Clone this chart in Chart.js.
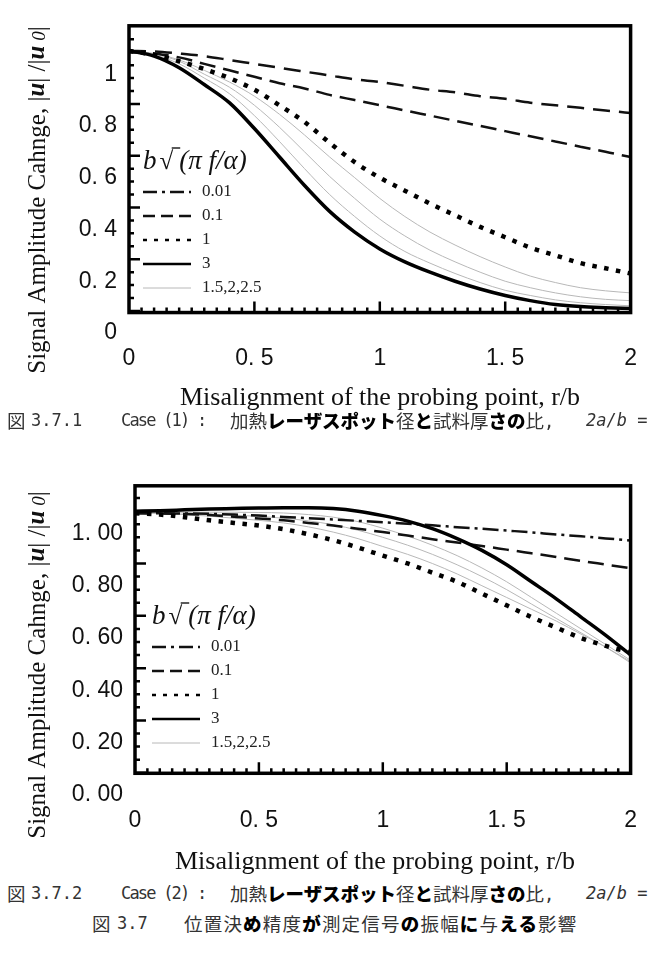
<!DOCTYPE html>
<html>
<head>
<meta charset="utf-8">
<script src="https://cdn.jsdelivr.net/npm/chart.js@4.4.1/dist/chart.umd.min.js"></script>
<style>
body { margin: 0; background: #fff; width: 649px; height: 954px; position: relative; overflow: hidden; }
.wrap { position: absolute; left: 0; width: 649px; }
#wrap1 { top: 0; height: 412px; }
#wrap2 { top: 460px; height: 415px; }
.cap { position: absolute; white-space: pre; color: #333; font-family: 'DejaVu Sans Mono', monospace; font-size: 17px; line-height: 20px; }
.cap span { position: absolute; top: 0; white-space: pre; }
.cs { letter-spacing: -1.8px; }
.j { font-family: 'Noto Sans CJK JP', sans-serif; font-size: 18.5px; }
.k { font-family: 'Noto Sans CJK JP', sans-serif; font-size: 18.5px; font-weight: 900; color: #000; }
</style>
</head>
<body>
<div class="wrap" id="wrap1"><canvas id="chart1"></canvas></div>
<div class="wrap" id="wrap2"><canvas id="chart2"></canvas></div>

<div class="cap" style="left:0;top:410px;width:649px;height:22px">
<span class="j" style="left:7px">図</span><span style="left:31px">3.7.1</span><span class="cs" style="left:121px">Case (1) :</span><span style="left:230px"><span class="j" style="position:static">加熱</span><span class="k" style="position:static">レーザスポット</span><span class="j" style="position:static">径</span><span class="k" style="position:static">と</span><span class="j" style="position:static">試料厚</span><span class="k" style="position:static">さの</span><span class="j" style="position:static">比</span>,</span><span style="left:586px;font-style:italic">2a/b =</span>
</div>
<div class="cap" style="left:0;top:883px;width:649px;height:22px">
<span class="j" style="left:7px">図</span><span style="left:31px">3.7.2</span><span class="cs" style="left:121px">Case (2) :</span><span style="left:230px"><span class="j" style="position:static">加熱</span><span class="k" style="position:static">レーザスポット</span><span class="j" style="position:static">径</span><span class="k" style="position:static">と</span><span class="j" style="position:static">試料厚</span><span class="k" style="position:static">さの</span><span class="j" style="position:static">比</span>,</span><span style="left:586px;font-style:italic">2a/b =</span>
</div>
<div class="cap" style="left:0;top:913px;width:649px;height:22px">
<span class="j" style="left:92px">図</span><span style="left:117px">3.7</span><span style="left:184px;letter-spacing:1.2px"><span class="j" style="position:static">位置決</span><span class="k" style="position:static">め</span><span class="j" style="position:static">精度</span><span class="k" style="position:static">が</span><span class="j" style="position:static">測定信号</span><span class="k" style="position:static">の</span><span class="j" style="position:static">振幅</span><span class="k" style="position:static">に</span><span class="j" style="position:static">与</span><span class="k" style="position:static">える</span><span class="j" style="position:static">影響</span></span>
</div>

<script>
// misalignment r/b
const xValues = [0, 0.1, 0.2, 0.3, 0.4, 0.5, 0.6, 0.7, 0.8, 0.9, 1.0, 1.1, 1.2, 1.3, 1.4, 1.5, 1.6, 1.7, 1.8, 1.9, 2.0];

// Case (1)
const c1_001 = [1.09, 1.088, 1.08, 1.07, 1.055, 1.04, 1.025, 1.01, 0.995, 0.98, 0.97, 0.955, 0.94, 0.93, 0.915, 0.905, 0.89, 0.88, 0.87, 0.86, 0.85];
const c1_01  = [1.09, 1.08, 1.065, 1.04, 1.015, 0.99, 0.965, 0.945, 0.92, 0.9, 0.88, 0.86, 0.84, 0.82, 0.8, 0.78, 0.76, 0.74, 0.72, 0.7, 0.68];
const c1_1   = [1.09, 1.075, 1.05, 1.02, 0.985, 0.94, 0.88, 0.815, 0.735, 0.66, 0.6, 0.55, 0.5, 0.455, 0.41, 0.37, 0.33, 0.3, 0.27, 0.25, 0.23];
const c1_3   = [1.09, 1.07, 1.025, 0.96, 0.89, 0.79, 0.68, 0.57, 0.47, 0.39, 0.325, 0.275, 0.235, 0.2, 0.17, 0.145, 0.125, 0.11, 0.102, 0.098, 0.095];
const c1_15  = [1.09, 1.08, 1.055, 1.015, 0.97, 0.915, 0.845, 0.765, 0.68, 0.6, 0.52, 0.45, 0.39, 0.34, 0.295, 0.255, 0.22, 0.195, 0.175, 0.163, 0.155];
const c1_2   = [1.09, 1.078, 1.05, 1.0, 0.95, 0.88, 0.795, 0.7, 0.605, 0.52, 0.44, 0.375, 0.32, 0.275, 0.235, 0.2, 0.175, 0.155, 0.14, 0.13, 0.125];
const c1_25  = [1.09, 1.075, 1.04, 0.985, 0.925, 0.84, 0.74, 0.635, 0.535, 0.45, 0.375, 0.315, 0.27, 0.23, 0.195, 0.165, 0.145, 0.128, 0.117, 0.11, 0.105];

// Case (2)
const c2_001 = [1.077, 1.077, 1.076, 1.075, 1.072, 1.068, 1.063, 1.058, 1.053, 1.048, 1.043, 1.037, 1.031, 1.024, 1.018, 1.011, 1.004, 0.996, 0.989, 0.981, 0.973];
const c2_01  = [1.077, 1.076, 1.074, 1.07, 1.064, 1.057, 1.05, 1.04, 1.03, 1.018, 1.005, 0.992, 0.978, 0.965, 0.952, 0.938, 0.924, 0.91, 0.895, 0.881, 0.867];
const c2_1   = [1.077, 1.072, 1.062, 1.05, 1.04, 1.03, 1.016, 0.997, 0.974, 0.946, 0.915, 0.885, 0.85, 0.815, 0.77, 0.725, 0.68, 0.64, 0.6, 0.57, 0.545];
const c2_3   = [1.085, 1.087, 1.09, 1.093, 1.095, 1.097, 1.098, 1.098, 1.095, 1.085, 1.068, 1.047, 1.018, 0.98, 0.935, 0.88, 0.815, 0.75, 0.68, 0.61, 0.535];
const c2_15  = [1.077, 1.076, 1.072, 1.066, 1.058, 1.05, 1.04, 1.025, 1.005, 0.98, 0.95, 0.92, 0.885, 0.845, 0.8, 0.755, 0.71, 0.665, 0.615, 0.565, 0.505];
const c2_2   = [1.08, 1.08, 1.078, 1.075, 1.07, 1.065, 1.058, 1.048, 1.033, 1.012, 0.985, 0.955, 0.92, 0.88, 0.835, 0.785, 0.73, 0.675, 0.62, 0.565, 0.51];
const c2_25  = [1.082, 1.082, 1.082, 1.081, 1.081, 1.08, 1.078, 1.072, 1.062, 1.045, 1.02, 0.99, 0.955, 0.915, 0.868, 0.815, 0.755, 0.695, 0.635, 0.575, 0.515];

const legendLabels = ['0.01', '0.1', '1', '3', '1.5,2,2.5'];
const xTickValues = [0, 0.5, 1, 1.5, 2];
const xTickLabels = ['0', '0. 5', '1', '1. 5', '2'];
const yTickValues = [0, 0.2, 0.4, 0.6, 0.8, 1.0];
const yTickLabels1 = ['0', '0. 2', '0. 4', '0. 6', '0. 8', '1'];
const yTickLabels2 = ['0. 00', '0. 20', '0. 40', '0. 60', '0. 80', '1. 00'];

const SERIF = "'Liberation Serif', 'Times New Roman', serif";
const SANS = "'Liberation Sans', 'DejaVu Sans', sans-serif";

function pts(arr) {
    return xValues.map((x, i) => ({ x: x, y: arr[i] }));
}

function makeDatasets(s001, s01, s1, s3, s15, s2, s25, dashDot) {
    const gray = { borderColor: '#b8b8b8', borderWidth: 1, pointRadius: 0, cubicInterpolationMode: 'monotone' };
    return [
        { label: '3', data: pts(s3), borderColor: '#000', borderWidth: 3.5, pointRadius: 0, cubicInterpolationMode: 'monotone' },
        { label: '1', data: pts(s1), borderColor: '#000', borderWidth: 4.5, borderDash: [4.5, 7.5], pointRadius: 0, cubicInterpolationMode: 'monotone' },
        { label: '0.1', data: pts(s01), borderColor: '#111', borderWidth: 2.5, borderDash: [16, 8], pointRadius: 0, cubicInterpolationMode: 'monotone' },
        { label: '0.01', data: pts(s001), borderColor: '#111', borderWidth: 2.5, borderDash: dashDot, pointRadius: 0, cubicInterpolationMode: 'monotone' },
        Object.assign({ label: '2.5', data: pts(s25) }, gray),
        Object.assign({ label: '2', data: pts(s2) }, gray),
        Object.assign({ label: '1.5', data: pts(s15) }, gray)
    ];
}

// legend sample dashes (legend draws thinner than the curves)
const legendDash = { '0.01': [14, 5, 3, 5], '0.1': [12, 6], '1': [4, 7] };

// frame, inner tick marks, legend and axis titles
const framePlugin = {
    id: 'frame',
    afterDatasetsDraw(chart, args, o) {
        const ctx = chart.ctx;
        const a = chart.chartArea;
        const x = chart.scales.x, y = chart.scales.y;
        const bottom = y.getPixelForValue(o.boxBottom);
        ctx.save();
        ctx.strokeStyle = '#000';
        ctx.lineWidth = 2.5;
        ctx.setLineDash([]);
        ctx.beginPath();
        for (let k = 0; k < 23; k++) {
            const v = 0.085 + k * 0.05;
            if (v > o.yMax - 0.02) break;
            const py = y.getPixelForValue(v);
            const len = (k % 4 === 0) ? 11 : 5;
            ctx.moveTo(a.left, py);
            ctx.lineTo(a.left + len, py);
        }
        for (let k = 1; k < 40; k++) {
            const px = x.getPixelForValue(k * 0.05);
            const len = (k % 10 === 0) ? 11 : 5;
            ctx.moveTo(px, bottom);
            ctx.lineTo(px, bottom - len);
        }
        ctx.stroke();
        ctx.lineWidth = 3.5;
        ctx.strokeRect(a.left, a.top, a.right - a.left, bottom - a.top);

        // legend
        const lx = o.legendX, ty = o.legendY;
        ctx.fillStyle = '#111';
        ctx.textBaseline = 'middle';
        ctx.textAlign = 'left';
        let cx = lx;
        ctx.font = 'italic 27px ' + SERIF;
        ctx.fillText('b', cx, ty);
        cx += ctx.measureText('b').width + 3;
        ctx.font = '25px ' + SERIF;
        ctx.fillText('\u221A', cx, ty);
        const sw = ctx.measureText('\u221A').width;
        ctx.lineWidth = 1.3;
        ctx.beginPath();
        ctx.moveTo(cx + sw - 1.5, ty - 14);
        ctx.lineTo(cx + sw + 7, ty - 14);
        ctx.stroke();
        cx += sw + 6;
        ctx.font = 'italic 27px ' + SERIF;
        ctx.fillText('(\u03C0 f/\u03B1)', cx, ty);

        const order = [3, 2, 1, 0, 4];
        legendLabels.forEach((lab, i) => {
            const ds = chart.data.datasets[order[i]];
            const ry = ty + 30 + i * 24;
            ctx.strokeStyle = ds.borderColor;
            ctx.lineWidth = Math.min(ds.borderWidth, 2.4);
            ctx.lineCap = 'butt';
            ctx.setLineDash(legendDash[ds.label] || []);
            ctx.beginPath();
            ctx.moveTo(lx, ry);
            ctx.lineTo(lx + 48, ry);
            ctx.stroke();
            ctx.setLineDash([]);
            ctx.fillStyle = '#222';
            ctx.font = '17px ' + SERIF;
            ctx.fillText(lab, lx + 59, ry);
        });

        // x title
        ctx.fillStyle = '#111';
        ctx.font = '26px ' + SERIF;
        ctx.textAlign = 'center';
        ctx.fillText('Misalignment of the probing point, r/b', o.xTitleX, o.xTitleY);

        // y title (rotated)
        ctx.translate(o.yTitleX, o.yTitleY);
        ctx.rotate(-Math.PI / 2);
        ctx.textAlign = 'left';
        const parts = [
            ['Signal Amplitude Cahnge, |', '25px ' + SERIF, 0],
            ['u', 'italic bold 25px ' + SERIF, 0],
            ['| /|', '25px ' + SERIF, 0],
            ['u', 'italic bold 25px ' + SERIF, 0],
            [' 0', 'italic 19px ' + SERIF, 2],
            ['|', '25px ' + SERIF, 0]
        ];
        let total = 0;
        parts.forEach(p => { ctx.font = p[1]; total += ctx.measureText(p[0]).width; });
        let px = -total / 2;
        parts.forEach(p => {
            ctx.font = p[1];
            ctx.fillText(p[0], px, p[2]);
            px += ctx.measureText(p[0]).width;
        });
        ctx.restore();
    }
};

function makeChart(id, datasets, geo, yLabels) {
    return new Chart(document.getElementById(id), {
        type: 'line',
        data: { datasets: datasets },
        plugins: [framePlugin],
        options: {
            responsive: true,
            maintainAspectRatio: false,
            animation: false,
            layout: { padding: { top: geo.top, right: geo.right, left: 0, bottom: 0 } },
            scales: {
                x: {
                    type: 'linear', min: 0, max: 2,
                    grid: { display: false, drawTicks: false },
                    border: { display: false },
                    afterBuildTicks: s => { s.ticks = xTickValues.map(v => ({ value: v })); },
                    afterFit: s => { s.height = geo.xHeight; },
                    ticks: {
                        padding: 12, color: '#111', maxRotation: 0,
                        font: { family: SANS, size: 23 },
                        callback: v => xTickLabels[xTickValues.indexOf(v)]
                    }
                },
                y: {
                    type: 'linear', min: 0, max: geo.yMax,
                    grid: { display: false, drawTicks: false },
                    border: { display: false },
                    afterBuildTicks: s => { s.ticks = yTickValues.map(v => ({ value: v })); },
                    afterFit: s => { s.width = geo.left; },
                    ticks: {
                        padding: 12, color: '#111',
                        font: { family: SANS, size: 23 },
                        callback: v => yLabels[yTickValues.indexOf(v)]
                    }
                }
            },
            plugins: {
                legend: { display: false },
                tooltip: { enabled: false },
                frame: {
                    boxBottom: geo.boxBottom, yMax: geo.yMax,
                    legendX: geo.legendX, legendY: geo.legendY,
                    xTitleX: geo.xTitleX, xTitleY: geo.xTitleY,
                    yTitleX: geo.yTitleX, yTitleY: geo.yTitleY
                }
            }
        }
    });
}

makeChart('chart1', makeDatasets(c1_001, c1_01, c1_1, c1_3, c1_15, c1_2, c1_25, [17, 9]),
    { top: 16, right: 17, left: 129, xHeight: 79, yMax: 1.187, boxBottom: 0.079,
      legendX: 143, legendY: 162, xTitleX: 380, xTitleY: 398, yTitleX: 38, yTitleY: 200 }, yTickLabels1);

makeChart('chart2', makeDatasets(c2_001, c2_01, c2_1, c2_3, c2_15, c2_2, c2_25, [16, 5, 3, 5]),
    { top: 20, right: 11, left: 135, xHeight: 80, yMax: 1.182, boxBottom: 0.083,
      legendX: 152, legendY: 157, xTitleX: 375, xTitleY: 402, yTitleX: 38, yTitleY: 205 }, yTickLabels2);
</script>
</body>
</html>
